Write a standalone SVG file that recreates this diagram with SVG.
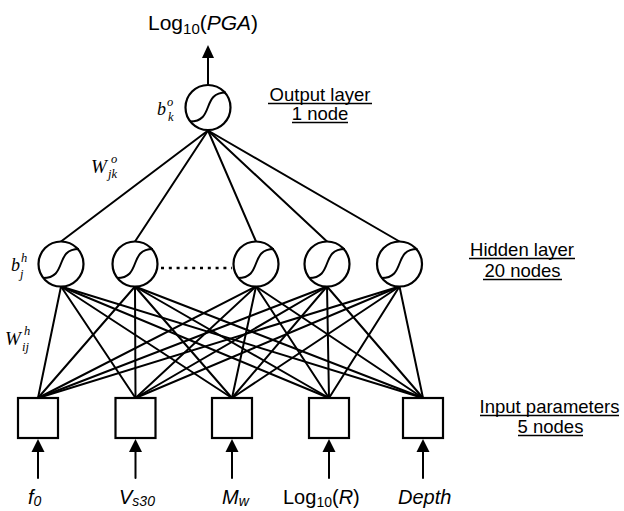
<svg xmlns="http://www.w3.org/2000/svg" xmlns:xlink="http://www.w3.org/1999/xlink" width="624" height="511" viewBox="0 0 624 511">
<style>
.ln{stroke:#000;stroke-width:2;fill:none;stroke-linecap:round}
.nd{stroke:#000;stroke-width:2.2;fill:#fff}
.sig{stroke:#000;stroke-width:2;fill:none}
.box{stroke:#000;stroke-width:2.2;fill:#fff}
.ah{fill:#000}
.lab{font-family:"Liberation Sans",Arial,sans-serif;font-size:18.5px;fill:#000}
.var{font-family:"Liberation Sans",Arial,sans-serif;font-size:20px;fill:#000}
.it{font-style:italic}
.ser{font-family:"Liberation Serif","Times New Roman",serif;font-style:italic;fill:#000;font-size:18px}
.sm{font-size:12.5px}
.ul{stroke:#000;stroke-width:1.5}
</style>
<defs>
<g id="neuron">
<circle cx="0" cy="0" r="22.5" class="nd"/>
<path class="sig" d="M-18,14 C7,14 -7,-15 18,-15"/>
</g>
</defs>
<g id="connectors">
<line class="ln" x1="208" y1="130.5" x2="61" y2="241.5"/>
<line class="ln" x1="208" y1="130.5" x2="135" y2="241.5"/>
<line class="ln" x1="208" y1="130.5" x2="256" y2="241.5"/>
<line class="ln" x1="208" y1="130.5" x2="327" y2="241.5"/>
<line class="ln" x1="208" y1="130.5" x2="399.5" y2="241.5"/>
<g>
<line class="ln" x1="61" y1="286.5" x2="38" y2="398"/>
<line class="ln" x1="61" y1="286.5" x2="135.5" y2="398"/>
<line class="ln" x1="61" y1="286.5" x2="232" y2="398"/>
<line class="ln" x1="61" y1="286.5" x2="329" y2="398"/>
<line class="ln" x1="61" y1="286.5" x2="423" y2="398"/>
<line class="ln" x1="135" y1="286.5" x2="38" y2="398"/>
<line class="ln" x1="135" y1="286.5" x2="135.5" y2="398"/>
<line class="ln" x1="135" y1="286.5" x2="232" y2="398"/>
<line class="ln" x1="135" y1="286.5" x2="329" y2="398"/>
<line class="ln" x1="135" y1="286.5" x2="423" y2="398"/>
<line class="ln" x1="256" y1="286.5" x2="38" y2="398"/>
<line class="ln" x1="256" y1="286.5" x2="135.5" y2="398"/>
<line class="ln" x1="256" y1="286.5" x2="232" y2="398"/>
<line class="ln" x1="256" y1="286.5" x2="329" y2="398"/>
<line class="ln" x1="256" y1="286.5" x2="423" y2="398"/>
<line class="ln" x1="327" y1="286.5" x2="38" y2="398"/>
<line class="ln" x1="327" y1="286.5" x2="135.5" y2="398"/>
<line class="ln" x1="327" y1="286.5" x2="232" y2="398"/>
<line class="ln" x1="327" y1="286.5" x2="329" y2="398"/>
<line class="ln" x1="327" y1="286.5" x2="423" y2="398"/>
<line class="ln" x1="399.5" y1="286.5" x2="38" y2="398"/>
<line class="ln" x1="399.5" y1="286.5" x2="135.5" y2="398"/>
<line class="ln" x1="399.5" y1="286.5" x2="232" y2="398"/>
<line class="ln" x1="399.5" y1="286.5" x2="329" y2="398"/>
<line class="ln" x1="399.5" y1="286.5" x2="423" y2="398"/>
</g>
<line class="ln" x1="208" y1="84" x2="208" y2="57"/>
<polygon class="ah" points="208,45 202,58 214,58"/>
<line class="ln" x1="38" y1="478" x2="38" y2="451"/>
<polygon class="ah" points="38,439 31.5,452 44.5,452"/>
<line class="ln" x1="135.5" y1="478" x2="135.5" y2="451"/>
<polygon class="ah" points="135.5,439 129,452 142,452"/>
<line class="ln" x1="232" y1="478" x2="232" y2="451"/>
<polygon class="ah" points="232,439 225.5,452 238.5,452"/>
<line class="ln" x1="329" y1="478" x2="329" y2="451"/>
<polygon class="ah" points="329,439 322.5,452 335.5,452"/>
<line class="ln" x1="423" y1="478" x2="423" y2="451"/>
<polygon class="ah" points="423,439 416.5,452 429.5,452"/>
<line x1="161" y1="268" x2="232" y2="268" stroke="#000" stroke-width="2.5" stroke-dasharray="3 4.8"/>
</g>
<g id="output-node"><use xlink:href="#neuron" x="208" y="107.5"/></g>
<g id="hidden-1"><use xlink:href="#neuron" x="61" y="264"/></g>
<g id="hidden-2"><use xlink:href="#neuron" x="135" y="264"/></g>
<g id="hidden-3"><use xlink:href="#neuron" x="256" y="264"/></g>
<g id="hidden-4"><use xlink:href="#neuron" x="327" y="264"/></g>
<g id="hidden-5"><use xlink:href="#neuron" x="399.5" y="264"/></g>
<g id="input-1"><rect class="box" x="18" y="398" width="40" height="40"/></g>
<g id="input-2"><rect class="box" x="115.5" y="398" width="40" height="40"/></g>
<g id="input-3"><rect class="box" x="212" y="398" width="40" height="40"/></g>
<g id="input-4"><rect class="box" x="309" y="398" width="40" height="40"/></g>
<g id="input-5"><rect class="box" x="403" y="398" width="40" height="40"/></g>
<g id="labels">
<text class="var" x="148" y="30" style="font-size:21px">Log<tspan style="font-size:15px" dy="4">10</tspan><tspan dy="-4">(</tspan><tspan class="it">PGA</tspan>)</text>
<text class="ser" x="157" y="115">b<tspan class="sm" x="167" y="106">o</tspan><tspan class="sm" x="168" y="121">k</tspan></text>
<text class="ser" x="91" y="173"><tspan style="font-size:19px">W</tspan><tspan class="sm" x="111" y="163">o</tspan><tspan class="sm" x="108" y="178">jk</tspan></text>
<text class="ser" x="11" y="271">b<tspan class="sm" x="21" y="262">h</tspan><tspan class="sm" x="20" y="278">j</tspan></text>
<text class="ser" x="5" y="345"><tspan style="font-size:19px">W</tspan><tspan class="sm" x="24" y="335">h</tspan><tspan class="sm" x="22" y="351">ij</tspan></text>
<text class="lab" x="320" y="101" text-anchor="middle">Output layer</text>
<line class="ul" x1="268" y1="103.5" x2="372" y2="103.5"/>
<text class="lab" x="320" y="120" text-anchor="middle">1 node</text>
<line class="ul" x1="292" y1="122.5" x2="348" y2="122.5"/>
<text class="lab" x="522" y="256" text-anchor="middle">Hidden layer</text>
<line class="ul" x1="469" y1="258.5" x2="575" y2="258.5"/>
<text class="lab" x="522.5" y="277" text-anchor="middle">20 nodes</text>
<line class="ul" x1="483" y1="279.5" x2="562" y2="279.5"/>
<text class="lab" x="549.5" y="413" text-anchor="middle">Input parameters</text>
<line class="ul" x1="480" y1="415.5" x2="619" y2="415.5"/>
<text class="lab" x="550.5" y="433" text-anchor="middle">5 nodes</text>
<line class="ul" x1="518" y1="435.5" x2="583" y2="435.5"/>
<text class="var it" x="28" y="504">f<tspan style="font-size:14px" dy="2">0</tspan></text>
<text class="var it" x="119" y="504">V<tspan style="font-size:14px" dy="2">s30</tspan></text>
<text class="var it" x="222" y="504">M<tspan style="font-size:14px" dy="2">w</tspan></text>
<text class="var" x="283" y="504">Log<tspan style="font-size:14px" dy="3">10</tspan><tspan dy="-3">(</tspan><tspan class="it">R</tspan>)</text>
<text class="var it" x="398" y="504">Depth</text>
</g>
</svg>
